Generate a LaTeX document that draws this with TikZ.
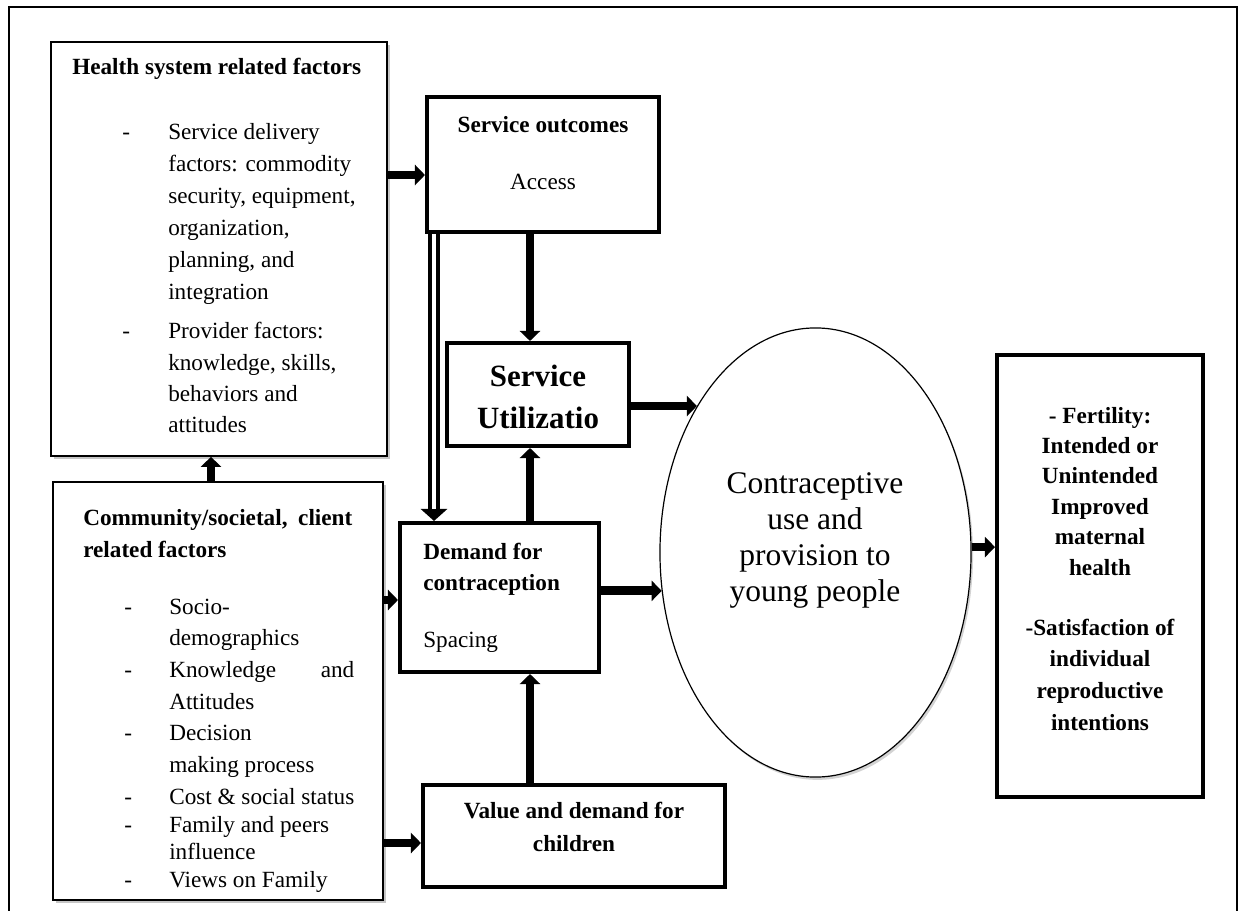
\documentclass[tikz,border=0pt]{standalone}
\usepackage{fontspec}
\setmainfont{Liberation Serif}
\usetikzlibrary{arrows.meta,positioning,shapes.geometric,calc,shadows}
\tikzset{
  frm/.style={draw,line width=0.4mm,fill=white,inner sep=0pt,drop shadow={shadow xshift=0.7mm,shadow yshift=-0.7mm,opacity=0.45}},
  blk/.style={draw,line width=1mm,fill=white,inner sep=0pt},
  oval/.style={ellipse,draw,line width=0.3mm,fill=white,inner sep=0pt,drop shadow={shadow xshift=0.5mm,shadow yshift=-0.7mm,opacity=0.35}},
  txt/.style={font=\fontsize{16.5}{20}\selectfont,inner sep=0pt},
  ttl/.style={font=\fontsize{16.5}{20}\selectfont\bfseries,inner sep=0pt},
  big/.style={font=\fontsize{22}{26}\selectfont\bfseries,inner sep=0pt},
  elt/.style={font=\fontsize{22.4}{26}\selectfont,inner sep=0pt},
  arr/.style={-{Triangle[length=2.5mm,width=5mm]},line width=2.2mm},
  dbl/.style={-{Triangle[length=3mm,width=6.5mm]},line width=3mm},
  dblin/.style={white,line width=0.8mm,shorten >=3mm},
}
\begin{document}
\begin{tikzpicture}[x=0.025cm,y=-0.025cm]
\useasboundingbox (0,0) rectangle (1240,911);
\draw[line width=0.5mm] (9,911) -- (9,7) -- (1237,7) -- (1237,911);
% boxes
\node[frm,minimum width=84mm,minimum height=103.5mm] (hs) at (219,249) {};
\node[frm,minimum width=82.5mm,minimum height=104.5mm] (cm) at (218,691) {};
\node[blk,minimum width=58mm,minimum height=33.75mm] (so) at (543,164.5) {};
\node[blk,minimum width=45.5mm,minimum height=25.75mm] (su) at (538,394.5) {};
\node[blk,minimum width=49.75mm,minimum height=37.25mm] (dm) at (499.5,597.5) {};
\node[blk,minimum width=75.5mm,minimum height=25.5mm] (vd) at (574,836) {};
\node[oval,minimum width=77.75mm,minimum height=112.25mm] (el) at (815.5,552.5) {};
\node[blk,minimum width=51.5mm,minimum height=110.5mm] (oc) at (1100,576) {};
% health system text
\node[ttl,anchor=base west] (hs-t) at (72,75) {Health system related factors};
\foreach \y in {140,339} \node[txt,anchor=base west] (hs-d\y) at (122,\y) {-};
\foreach \t [count=\i from 0] in {Service delivery,factors: commodity,{security, equipment,},{organization,},{planning, and},integration}
  \node[txt,anchor=base west] (hs-a\i) at (168,140+32*\i) {\t};
\foreach \t [count=\i from 0] in {Provider factors:,{knowledge, skills,},behaviors and,attitudes}
  \node[txt,anchor=base west] (hs-b\i) at (168,339+31*\i) {\t};
% community text
\node[ttl,anchor=base west] (cm-t1) at (83,525) {\makebox[67.25mm][s]{Community/societal, client}};
\node[ttl,anchor=base west] (cm-t2) at (83,557) {related factors};
\foreach \y in {614,677,740,804,832,887} \node[txt,anchor=base west] (cm-d\y) at (124,\y) {-};
\foreach \y/\t in {614/Socio-,645/demographics,677/{\makebox[46.25mm][s]{Knowledge and}},709/Attitudes,740/Decision,772/making process,804/Cost \& social status,832/Family and peers,859/influence,887/Views on Family}
  \node[txt,anchor=base west] (cm-l\y) at (169,\y) {\t};
% middle boxes text
\node[ttl,anchor=base] (so-t) at (543,133) {Service outcomes};
\node[txt,anchor=base] (so-s) at (543,190) {Access};
\node[big,anchor=base] (su-t1) at (538,386) {Service};
\node[big,anchor=base] (su-t2) at (538,428) {Utilizatio};
\node[ttl,anchor=base west] (dm-t1) at (423,559) {Demand for};
\node[ttl,anchor=base west] (dm-t2) at (423,590) {contraception};
\node[txt,anchor=base west] (dm-s) at (423,647) {Spacing};
\node[ttl,anchor=base] (vd-t1) at (574,818) {Value and demand for};
\node[ttl,anchor=base] (vd-t2) at (574,851) {children};
% ellipse text
\foreach \t [count=\i from 0] in {Contraceptive,use and,provision to,young people}
  \node[elt,anchor=base] (el-l\i) at (815,493+36*\i) {\t};
% outcome text
\foreach \t [count=\i from 0] in {- Fertility:,Intended or,Unintended,Improved,maternal,health}
  \node[ttl,anchor=base] (oc-a\i) at (1100,423+30.4*\i) {\t};
\foreach \t [count=\i from 0] in {-Satisfaction of,individual,reproductive,intentions}
  \node[ttl,anchor=base] (oc-b\i) at (1100,635+31.7*\i) {\t};
% arrows
\draw[arr] (hs.east |- 0,175) -- (so.west |- 0,175);
\draw[arr] (cm.north -| 211,0) -- (hs.south -| 211,0);
\draw[arr] (so.south -| 530,0) -- (su.north -| 530,0);
\draw[arr] (dm.north -| 530,0) -- (su.south -| 530,0);
\draw[arr] (vd.north -| 530,0) -- (dm.south -| 530,0);
\draw[arr] (cm.east |- 0,600) -- (dm.west |- 0,600);
\draw[arr] (cm.east |- 0,843) -- (vd.west |- 0,843);
\draw[arr] (su.east |- el.129) -- (el.129);
\draw[arr] (dm.east |- el.194) -- (el.194);
\draw[arr] (el.2) -- (el.2 -| oc.west);
\draw[dbl] (so.south -| 434,0) -- (dm.north -| 434,0);
\draw[dblin] (so.south -| 434,0) -- (dm.north -| 434,0);
\end{tikzpicture}
\end{document}
